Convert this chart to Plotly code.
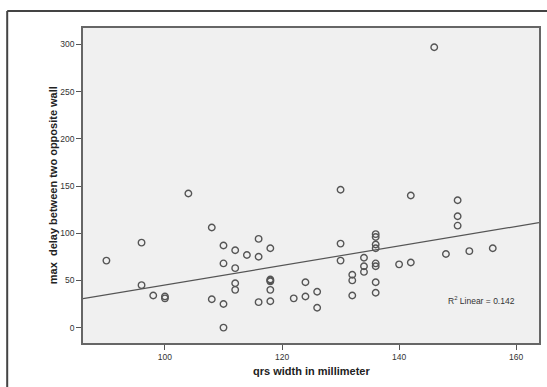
import numpy as np
import plotly.graph_objects as go

qrs_width = [90, 96, 96, 98, 100, 100, 104, 108, 108, 110, 110, 110, 110,
             112, 112, 112, 112, 114, 116, 116, 116, 118, 118, 118, 118, 118, 118,
             122, 124, 124, 126, 126, 130, 130, 130, 132, 132, 132, 134, 134, 134,
             136, 136, 136, 136, 136, 136, 136, 136, 140, 142, 142, 146, 148,
             150, 150, 150, 152, 156]
max_delay = [71, 90, 45, 34, 33, 31, 142, 106, 30, 87, 68, 25, 0,
             82, 63, 47, 40, 77, 94, 75, 27, 84, 51, 50, 49, 40, 28,
             31, 48, 33, 38, 21, 146, 89, 71, 56, 50, 34, 74, 65, 59,
             99, 96, 88, 84, 68, 65, 48, 37, 67, 140, 69, 297, 78,
             135, 118, 108, 81, 84]

x_ticks = [100, 120, 140, 160]
y_ticks = [0, 50, 100, 150, 200, 250, 300]
x_range = [86.0, 163.9]
y_range = [-16.3, 317.4]

slope, intercept = np.polyfit(qrs_width, max_delay, 1)
fit_x = np.array(x_range)
fit_y = intercept + slope * fit_x

fig = go.Figure()
fig.add_trace(go.Scatter(
    x=fit_x, y=fit_y, mode="lines",
    line=dict(color="#555555", width=1.2), hoverinfo="skip", showlegend=False))
fig.add_trace(go.Scatter(
    x=qrs_width, y=max_delay, mode="markers",
    marker=dict(symbol="circle-open", size=6.5, color="#555555",
                line=dict(width=1.4, color="#555555")),
    showlegend=False))

L, R, T, B = 83.3, 7.7, 27.7, 44.0
W, H = 547, 387
pw = W - L - R
ph = H - T - B

def px_x(px):
    return (px - L) / pw

def px_y(py):
    return (H - B - py) / ph

font_fam = "Liberation Sans, Arial, sans-serif"

fig.update_layout(
    width=W, height=H,
    margin=dict(l=L, r=R, t=T, b=B),
    paper_bgcolor="white",
    plot_bgcolor="#f0f0f0",
    font=dict(family=font_fam, size=8, color="#333333"),
    xaxis=dict(range=x_range, tickvals=x_ticks, showgrid=False, zeroline=False,
               showline=True, linecolor="#666666", linewidth=1.5, mirror=True,
               ticks="outside", ticklen=5, tickcolor="#555555", tickwidth=1,
               tickfont=dict(size=8.5, color="#333333")),
    yaxis=dict(range=y_range, tickvals=y_ticks, showgrid=False, zeroline=False,
               showline=True, linecolor="#666666", linewidth=1.5, mirror=True,
               ticks="outside", ticklen=5, tickcolor="#555555", tickwidth=1,
               tickfont=dict(size=8.5, color="#333333")),
    annotations=[
        dict(text="<b>qrs width in millimeter</b>", xref="paper", yref="paper",
             x=0.5, y=px_y(371), xanchor="center", yanchor="middle",
             showarrow=False, font=dict(size=11, color="#222222", family=font_fam)),
        dict(text="<b>max  delay between two opposite wall</b>", xref="paper", yref="paper",
             x=px_x(53), y=0.5, xanchor="center", yanchor="middle", textangle=-90,
             showarrow=False, font=dict(size=11, color="#222222", family=font_fam)),
        dict(text="R<sup>2</sup> Linear = 0.142", xref="paper", yref="paper",
             x=px_x(481.7), y=px_y(300.7), xanchor="center", yanchor="middle",
             showarrow=False, font=dict(size=8.5, color="#333333", family=font_fam)),
    ],
    shapes=[
        dict(type="line", xref="paper", yref="paper",
             x0=px_x(7.5), x1=px_x(548), y0=px_y(10.7), y1=px_y(10.7),
             line=dict(color="#444444", width=2)),
        dict(type="line", xref="paper", yref="paper",
             x0=px_x(7.5), x1=px_x(7.5), y0=px_y(10.7), y1=px_y(390),
             line=dict(color="#444444", width=2)),
    ],
)

fig.write_html("out.html",
               config={"displayModeBar": False},
               post_script="document.body.style.margin='0';document.body.style.overflow='hidden';")
